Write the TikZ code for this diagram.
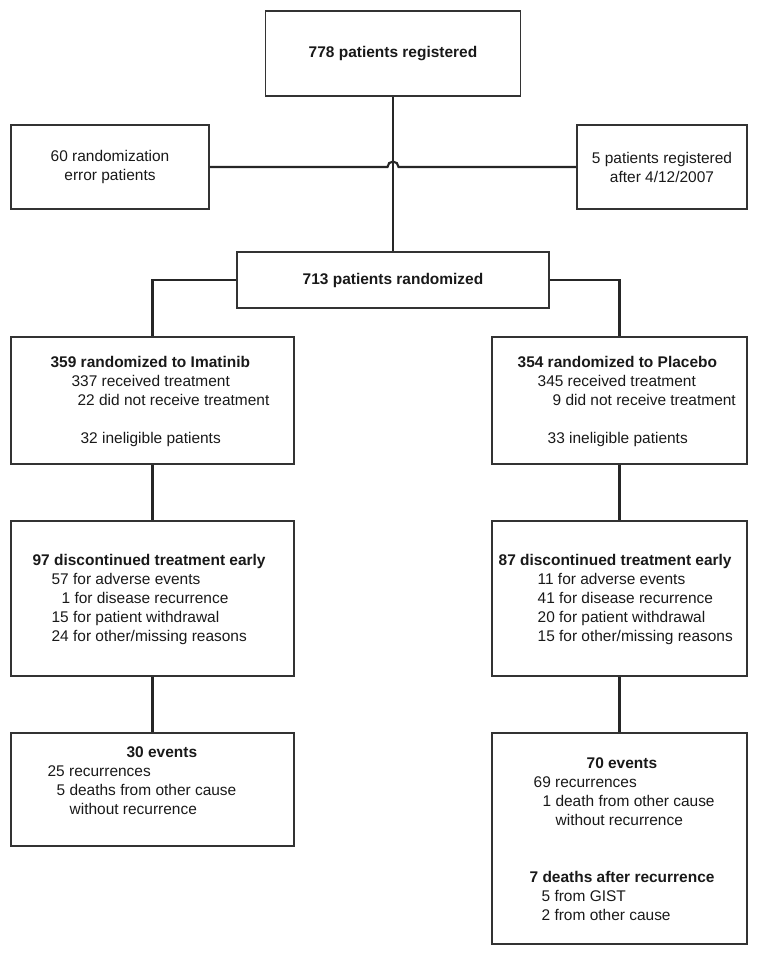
\documentclass[tikz,border=0pt]{standalone}
\usepackage{fontspec}
\setmainfont{Liberation Sans}
\usetikzlibrary{calc}

\newdimen\pxunit
\pxunit=0.025cm
\newcommand{\ind}[1]{\hspace*{#1\pxunit}}

\tikzset{
  box/.style 2 args={draw=black!80, line width=0.9pt, inner sep=0pt,
    minimum width=#1*0.025cm, minimum height=#2*0.025cm,
    align=center, text=black!90, font=\fontsize{11}{13.5}\selectfont},
  txt/.style={inner sep=0pt, align=left, text=black!90,
    font=\fontsize{11}{13.5}\selectfont},
  link/.style={line width=1.5pt, draw=black!85}
}

\begin{document}
\begin{tikzpicture}[x=0.025cm, y=-0.025cm]
    \useasboundingbox (0,0) rectangle (759,956);
    % Draw the registration boxes
    \node[box={255}{85}] (reg) at (393,53.5) {\textbf{778 patients registered}};
    \node[box={198}{84}] (err) at (110,167) {60 randomization\\error patients};
    \node[box={170}{84}] (late) at (662,167) {5 patients registered\\after 4/12/2007};
    \node[box={312}{56}] (rand) at (393,280) {\textbf{713 patients randomized}};
    % Draw the arm boxes
    \node[box={283}{127}] (imat) at (152.5,400.5) {};
    \node[box={255}{127}] (plac) at (619.5,400.5) {};
    \node[box={283}{155}] (disc1) at (152.5,598.5) {};
    \node[box={255}{155}] (disc2) at (619.5,598.5) {};
    \node[box={283}{113}] (ev1) at (152.5,789.5) {};
    \node[box={255}{211}] (ev2) at (619.5,838.5) {};
    % Fill in the arm texts
    \node[txt, anchor=west] (imat-t) at ($(imat.west)+(40,1)$)
      {\textbf{359 randomized to Imatinib}\\
       \ind{21}337 received treatment\\
       \ind{27}22 did not receive treatment\\[13.5pt]
       \ind{30}32 ineligible patients};
    \node[txt, anchor=west] (plac-t) at ($(plac.west)+(26,1)$)
      {\textbf{354 randomized to Placebo}\\
       \ind{20}345 received treatment\\
       \ind{35}9 did not receive treatment\\[13.5pt]
       \ind{30}33 ineligible patients};
    \node[txt, anchor=west] (disc1-t) at ($(disc1.west)+(22,1)$)
      {\textbf{97 discontinued treatment early}\\
       \ind{19}57 for adverse events\\
       \ind{29}1 for disease recurrence\\
       \ind{19}15 for patient withdrawal\\
       \ind{19}24 for other/missing reasons};
    \node[txt, anchor=west] (disc2-t) at ($(disc2.west)+(7,1)$)
      {\textbf{87 discontinued treatment early}\\
       \ind{39}11 for adverse events\\
       \ind{39}41 for disease recurrence\\
       \ind{39}20 for patient withdrawal\\
       \ind{39}15 for other/missing reasons};
    \node[txt, anchor=west] (ev1-t) at ($(ev1.west)+(37,-8.5)$)
      {\ind{79}\textbf{30 events}\\
       25 recurrences\\
       \ind{9}5 deaths from other cause\\
       \ind{22}without recurrence};
    \node[txt, anchor=west] (ev2-t) at ($(ev2.west)+(38,1)$)
      {\ind{57}\textbf{70 events}\\
       \ind{4}69 recurrences\\
       \ind{13}1 death from other cause\\
       \ind{26}without recurrence\\[27pt]
       \textbf{7 deaths after recurrence}\\
       \ind{12}5 from GIST\\
       \ind{12}2 from other cause};
    % Draw the connectors
    \draw[link] (reg.south) -- (rand.north);
    \coordinate (hop) at ($(reg.south |- err.east)+(-5.5,0)$);
    \draw[link] (err.east) -- (hop)
      arc[start angle=180, end angle=0, radius=0.1375cm] -- (late.west);
    \draw[link] (rand.west) -| (imat.north);
    \draw[link] (rand.east) -| (plac.north);
    \draw[link] (imat.south) -- (disc1.north);
    \draw[link] (disc1.south) -- (ev1.north);
    \draw[link] (plac.south) -- (disc2.north);
    \draw[link] (disc2.south) -- (ev2.north);
\end{tikzpicture}
\end{document}
